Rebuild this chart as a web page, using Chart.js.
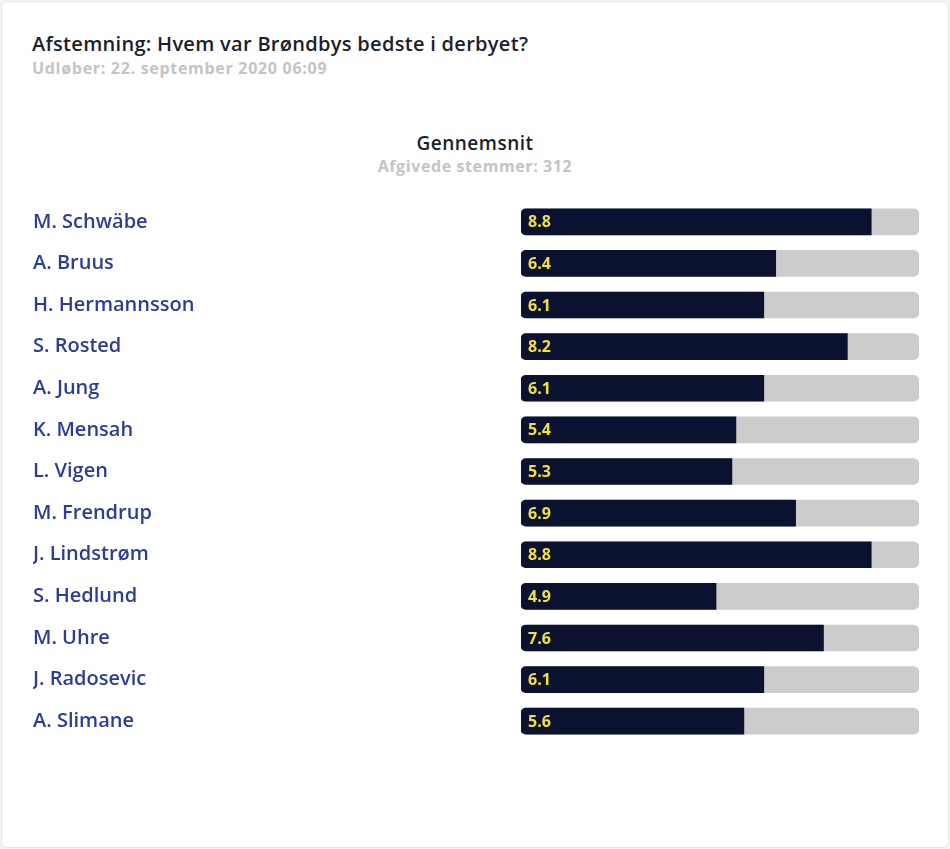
<!DOCTYPE html>
<html>
<head>
<meta charset="utf-8">
<script src="https://cdn.jsdelivr.net/npm/chart.js@4"></script>
<style>
  html, body { margin: 0; padding: 0; background: #f4f4f4; }
  .card {
    position: absolute; left: 1px; top: 1px; width: 946px; height: 845px;
    background: #fff; border: 1px solid #e6e6e6; border-radius: 6px;
    font-family: "Open Sans", Lato, sans-serif;
  }
  .title { position: absolute; left: 30px; top: 28px; font-size: 20px; font-weight: 600; letter-spacing: 0.3px; color: #1b1e2d; }
  .sub { position: absolute; left: 30px; top: 55px; font-size: 16px; font-weight: 700; letter-spacing: 0.7px; color: #c4c4c4; }
  .head { position: absolute; left: 0; width: 100%; text-align: center; }
  .h1 { top: 128px; font-size: 19px; font-weight: 600; letter-spacing: 0.5px; color: #1b1e2d; }
  .h2 { top: 153px; font-size: 16px; font-weight: 700; letter-spacing: 0.6px; color: #c4c4c4; }
  #wrap { position: absolute; left: -1px; top: 189px; width: 950px; height: 562px; }
</style>
</head>
<body>
<div class="card">
  <div class="title">Afstemning: Hvem var Brøndbys bedste i derbyet?</div>
  <div class="sub">Udløber: 22. september 2020 06:09</div>
  <div class="head h1">Gennemsnit</div>
  <div class="head h2">Afgivede stemmer: 312</div>
  <div id="wrap"><canvas id="pollChart"></canvas></div>
</div>
<script>
const players = ["M. Schwäbe", "A. Bruus", "H. Hermannsson", "S. Rosted", "A. Jung", "K. Mensah",
  "L. Vigen", "M. Frendrup", "J. Lindstrøm", "S. Hedlund", "M. Uhre", "J. Radosevic", "A. Slimane"];
const averages = [8.8, 6.4, 6.1, 8.2, 6.1, 5.4, 5.3, 6.9, 8.8, 4.9, 7.6, 6.1, 5.6];
const maxScore = 10;

// yellow number inside each dark bar
const valueLabels = {
  id: "valueLabels",
  afterDatasetsDraw(chart) {
    const ctx = chart.ctx;
    const meta = chart.getDatasetMeta(0);
    ctx.save();
    ctx.font = "bold 16px 'Open Sans', Lato, sans-serif";
    ctx.fillStyle = "#f3e03b";
    ctx.textBaseline = "middle";
    meta.data.forEach((bar, i) => {
      ctx.fillText(averages[i].toFixed(1), bar.base + 7, bar.y + 1);
    });
    ctx.restore();
  },
};

new Chart(document.getElementById("pollChart"), {
  type: "bar",
  data: {
    labels: players,
    datasets: [
      {
        data: averages,
        backgroundColor: "#0b1230",
        borderRadius: { topLeft: 5, bottomLeft: 5, topRight: 0, bottomRight: 0 },
        borderSkipped: false,
        barThickness: 26,
        order: 1,
      },
      {
        data: players.map(() => maxScore),
        backgroundColor: "#cccccc",
        borderRadius: 6,
        borderSkipped: false,
        barThickness: 26,
        order: 2,
      },
    ],
  },
  options: {
    indexAxis: "y",
    responsive: true,
    maintainAspectRatio: false,
    animation: false,
    datasets: { bar: { grouped: false } },
    layout: { padding: { left: 32, right: 32, top: 10, bottom: 11 } },
    plugins: {
      legend: { display: false },
      tooltip: { enabled: false },
    },
    scales: {
      x: { display: false, min: 0, max: maxScore },
      y: {
        grid: { display: false },
        border: { display: false },
        afterFit(axis) {
          axis.width = 488;
          axis.paddingTop = 0;
          axis.paddingBottom = 0;
        },
        ticks: {
          crossAlign: "far",
          color: "#2b3d94",
          font: { family: "'Open Sans', Lato, sans-serif", size: 20, weight: "600" },
        },
      },
    },
  },
  plugins: [valueLabels],
});
</script>
</body>
</html>
